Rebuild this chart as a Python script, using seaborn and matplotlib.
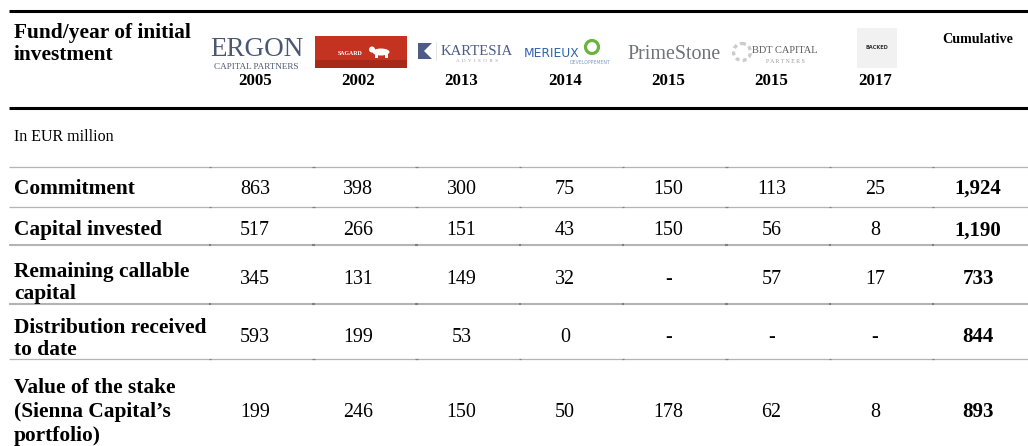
import matplotlib
matplotlib.use("Agg")
import matplotlib.pyplot as plt
import matplotlib.patches as mpatches
import seaborn as sns
import numpy as np

# ---------------- data ----------------
funds = ["Ergon Capital Partners", "Sagard", "Kartesia", "Merieux Developpement",
         "PrimeStone", "BDT Capital Partners", "Backed"]
years = ["2005", "2002", "2013", "2014", "2015", "2015", "2017"]
row_labels = [
    ["Commitment"],
    ["Capital invested"],
    ["Remaining callable", "capital"],
    ["Distribution received", "to date"],
    ["Value of the stake", "(Sienna Capital\u2019s", "portfolio)"],
]
commitment = ["863", "398", "300", "75", "150", "113", "25"]
capital_invested = ["517", "266", "151", "43", "150", "56", "8"]
remaining_callable = ["345", "131", "149", "32", "-", "57", "17"]
distribution = ["593", "199", "53", "0", "-", "-", "-"]
value_stake = ["199", "246", "150", "50", "178", "62", "8"]
cumulative = ["1,924", "1,190", "733", "844", "893"]
header_title = ["Fund/year of initial", "investment"]
unit_label = "In EUR million"
cumulative_label = "Cumulative"

values = [commitment, capital_invested, remaining_callable, distribution, value_stake]

# ---------------- style ----------------
sns.set_theme(style="white")
plt.rcParams["font.family"] = ["Liberation Serif", "DejaVu Serif"]

W, H = 1028, 446
fig = plt.figure(figsize=(W / 100, H / 100), dpi=100)
ax = fig.add_axes([0, 0, 1, 1])
ax.set_xlim(0, W)
ax.set_ylim(H, 0)
ax.axis("off")

PX = 100 / 72.0  # pixels per point


def put(x, yc, s, size, weight="normal", ha="center", color="black", family=None, **kw):
    """place text so that its cap/digit height is centred at yc"""
    yb = yc + 0.33 * size * PX
    kwargs = dict(fontsize=size, fontweight=weight, ha=ha, va="baseline", color=color)
    if family is not None:
        kwargs["family"] = family
    kwargs.update(kw)
    ax.text(x, yb, s, **kwargs)


# column layout
x0, dx = 255, 103.3
col_x = [x0 + dx * i for i in range(len(funds) + 1)]
left = 14

# rules
ax.plot([9, W], [10.5, 10.5], color="black", lw=2.2, solid_capstyle="butt")
ax.plot([9, W], [108, 108], color="black", lw=2.2, solid_capstyle="butt")
rule_y = [167, 207, 244.5, 304, 359]
rule_w = [0.9, 0.9, 1.5, 1.5, 0.9]
for y, w in zip(rule_y, rule_w):
    ax.plot([9, W], [y, y], color="#b4b4b4", lw=w, solid_capstyle="butt")
    for cx in col_x:
        bx = cx - 45
        ax.plot([bx - 1.2, bx + 1.2], [y, y], color="#808080", lw=w,
                solid_capstyle="butt")

# header
put(left, 31, header_title[0], 15.4, "bold", ha="left")
put(left, 53, header_title[1], 15.4, "bold", ha="left")
put(col_x[-1], 38, cumulative_label, 10.2, "bold")
for i, yr in enumerate(years):
    put(col_x[i], 79, yr, 12.2, "bold")

# ---- logos (approximate drawings) ----
# Ergon
put(col_x[0] + 2, 47, "ERGON", 19.5, color="#4b5874")
put(col_x[0] + 1, 66, "CAPITAL PARTNERS", 6.6, color="#4b5874")
# Sagard
ax.add_patch(mpatches.Rectangle((315, 36), 92, 24, color="#c3331f", lw=0))
ax.add_patch(mpatches.Rectangle((315, 60), 92, 8, color="#a8281a", lw=0))
put(350, 53, "SAGARD", 4.2, "bold", color="white")
ax.add_patch(mpatches.Ellipse((381, 52), 17, 7, color="white", lw=0))
ax.add_patch(mpatches.Circle((372, 49.5), 3, color="white", lw=0))
ax.add_patch(mpatches.Rectangle((375, 53), 2.5, 5, color="white", lw=0))
ax.add_patch(mpatches.Rectangle((385, 53), 2.5, 5, color="white", lw=0))
# Kartesia
ax.add_patch(mpatches.Polygon([[418, 43], [432, 43], [424, 51], [432, 59], [418, 59]],
                              closed=True, color="#4d5b86", lw=0))
ax.plot([436, 436], [42, 60], color="#e0e0e0", lw=0.6)
put(477, 50, "KARTESIA", 10.6, color="#4d5b86")
put(477, 60, "A  D  V  I  S  O  R  S", 3.6, color="#9aa0b0")
# Merieux
put(552, 53, "MERIEUX", 8.8, color="#2f63a8", family="DejaVu Sans")
ax.add_patch(mpatches.Circle((592, 47), 6.5, fill=False, ec="#6bb33f", lw=2.3))
put(590, 62, "DEVELOPPEMENT", 3.3, color="#7b9cc8", family="DejaVu Sans")
# PrimeStone
put(674, 52, "PrimeStone", 14.4, color="#6e7479")
# BDT
ax.add_patch(mpatches.Circle((742, 52), 8.5, fill=False, ec="#cccccc", lw=2.4,
                             ls=(0, (1.2, 1.0))))
put(785, 50, "BDT CAPITAL", 7.5, color="#5a5a5a")
put(785, 61, "P A R T N E R S", 4.2, color="#9a9a9a")
# Backed
ax.add_patch(mpatches.Rectangle((857, 28), 40, 40, color="#f1f1f1", lw=0))
put(877, 47, "BACKED", 3.6, "bold", color="#333333", family="DejaVu Sans")

# unit label
put(left, 136, unit_label, 11.5, ha="left")

# body rows
row_y = [187, 228.5, 277, 335, 410]
label_y = [[187], [228], [270, 292], [326, 348], [386, 410, 434]]
for r, (labels, ly) in enumerate(zip(row_labels, label_y)):
    for s, y in zip(labels, ly):
        put(left, y, s, 15.4, "bold", ha="left")
    for i, v in enumerate(values[r]):
        put(col_x[i], row_y[r], v, 14.4)
    put(col_x[-1], row_y[r], cumulative[r], 15.0, "bold")

fig.savefig("out.png", dpi=100, facecolor="white")
